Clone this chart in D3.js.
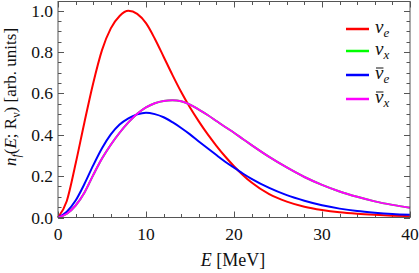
<!DOCTYPE html>
<html>
<head>
<meta charset="utf-8">
<script src="https://cdn.jsdelivr.net/npm/d3@7"></script>
<style>
  body { margin: 0; background: #fff; }
  svg { display: block; font-family: "Liberation Serif", "DejaVu Serif", serif; }
</style>
</head>
<body>
<svg id="chart" width="419" height="273"></svg>
<script>
// energies (MeV) the curves were read at
const energy = [0, 1, 2, 3, 4, 5, 6, 7, 8, 9, 10, 11, 12, 13, 14, 15, 16, 17, 18, 19, 20, 21, 22, 24, 26, 28, 30, 32, 34, 36, 38, 40];

// spectra
const nuE = [0, 0.08, 0.26, 0.46, 0.65, 0.81, 0.915, 0.975, 1.0, 0.985, 0.94, 0.865, 0.778, 0.69, 0.607, 0.532, 0.465, 0.403, 0.347, 0.295, 0.248, 0.206, 0.169, 0.113, 0.077, 0.052, 0.036, 0.025, 0.018, 0.013, 0.009, 0.006];
const nuX = [0, 0.018, 0.058, 0.12, 0.205, 0.285, 0.352, 0.41, 0.46, 0.502, 0.533, 0.553, 0.564, 0.567, 0.562, 0.546, 0.522, 0.496, 0.467, 0.438, 0.41, 0.38, 0.35, 0.293, 0.242, 0.196, 0.158, 0.126, 0.1, 0.078, 0.061, 0.047];
const nuEbar = [0, 0.028, 0.082, 0.162, 0.252, 0.335, 0.402, 0.45, 0.48, 0.499, 0.507, 0.5, 0.485, 0.461, 0.433, 0.402, 0.368, 0.335, 0.302, 0.27, 0.241, 0.213, 0.187, 0.143, 0.108, 0.081, 0.059, 0.043, 0.031, 0.023, 0.017, 0.013];
const nuXbar = [0, 0.018, 0.058, 0.12, 0.205, 0.285, 0.352, 0.41, 0.46, 0.502, 0.533, 0.553, 0.564, 0.567, 0.562, 0.546, 0.522, 0.496, 0.467, 0.438, 0.41, 0.38, 0.35, 0.293, 0.242, 0.196, 0.158, 0.126, 0.1, 0.078, 0.061, 0.047];

const series = [
  {name: "e", bar: false, color: "#ff0000", values: nuE},
  {name: "x", bar: false, color: "#00ff00", values: nuX},
  {name: "e", bar: true, color: "#0000ff", values: nuEbar},
  {name: "x", bar: true, color: "#ff00ff", values: nuXbar}
];

const xTicks = [0, 10, 20, 30, 40];
const yTicks = [0, 0.2, 0.4, 0.6, 0.8, 1.0];

const svg = d3.select("#chart");
const plotLeft = 58, plotRight = 410, plotTop = 1.5, plotBottom = 217.5;

const x = d3.scaleLinear().domain([0, 40]).range([plotLeft, plotRight]);
const y = d3.scaleLinear().domain([0, 1.045]).range([plotBottom, plotTop]);

const frameColor = "#555";

// ticks on all four sides, pointing inwards
const xMinor = d3.range(0, 40.01, 2);
const yMinor = d3.range(0, 1.0451, 0.05);
const tk = svg.append("g").attr("stroke", frameColor).attr("stroke-width", 1);
xMinor.forEach(v => {
  const len = (Math.round(v) % 10 === 0) ? 6 : 3.5;
  const px = Math.round(x(v)) + 0.5;
  tk.append("line").attr("x1", px).attr("x2", px).attr("y1", plotBottom).attr("y2", plotBottom - len);
  tk.append("line").attr("x1", px).attr("x2", px).attr("y1", plotTop).attr("y2", plotTop + len);
});
yMinor.forEach(v => {
  const major = Math.abs(v * 5 - Math.round(v * 5)) < 1e-6;
  const len = major ? 6 : 3.5;
  const py = Math.round(y(v)) + 0.5;
  tk.append("line").attr("x1", plotLeft).attr("x2", plotLeft + len).attr("y1", py).attr("y2", py);
  tk.append("line").attr("x1", plotRight).attr("x2", plotRight - len).attr("y1", py).attr("y2", py);
});

// tick labels
svg.append("g").selectAll("text").data(xTicks).join("text")
  .attr("x", d => x(d)).attr("y", 239.5)
  .attr("text-anchor", "middle").attr("font-size", 17.5).attr("fill", "#111")
  .text(d => d);
svg.append("g").selectAll("text").data(yTicks).join("text")
  .attr("x", 53).attr("y", d => y(d) + 6)
  .attr("text-anchor", "end").attr("font-size", 17.5).attr("fill", "#111")
  .text(d => d.toFixed(1));

// curves
const line = d3.line()
  .x((d, i) => x(energy[i]))
  .y(d => y(d))
  .curve(d3.curveMonotoneX);

const plot = svg.append("g");
series.forEach(s => {
  plot.append("path")
    .attr("d", line(s.values))
    .attr("fill", "none")
    .attr("stroke", s.color)
    .attr("stroke-width", 2);
});

// frame
svg.append("rect")
  .attr("x", plotLeft).attr("y", plotTop)
  .attr("width", plotRight - plotLeft).attr("height", plotBottom - plotTop)
  .attr("fill", "none").attr("stroke", frameColor).attr("stroke-width", 1);

// legend
const legY = [29, 51, 75, 99];
series.forEach((s, i) => {
  const g = svg.append("g");
  g.append("line")
    .attr("x1", 346).attr("x2", 369)
    .attr("y1", legY[i]).attr("y2", legY[i])
    .attr("stroke", s.color).attr("stroke-width", 2.5);
  const t = g.append("text")
    .attr("x", 375).attr("y", legY[i] + 4)
    .attr("font-size", 19).attr("font-style", "italic").attr("fill", "#111");
  t.append("tspan").text("ν");
  t.append("tspan").attr("font-size", 13).attr("dy", 4).text(s.name);
  if (s.bar) {
    const ext = t.node().getExtentOfChar(0);
    g.append("line")
      .attr("x1", ext.x + 1).attr("x2", ext.x + ext.width)
      .attr("y1", legY[i] - 7).attr("y2", legY[i] - 7)
      .attr("stroke", "#111").attr("stroke-width", 1);
  }
});

// axis titles
const xl = svg.append("text")
  .attr("x", 233).attr("y", 266)
  .attr("text-anchor", "middle").attr("font-size", 18).attr("fill", "#111");
xl.append("tspan").attr("font-style", "italic").text("E");
xl.append("tspan").text(" [MeV]");

const yl = svg.append("text")
  .attr("transform", "translate(16,97) rotate(-90)")
  .attr("text-anchor", "middle").attr("font-size", 17).attr("fill", "#111");
yl.append("tspan").attr("font-style", "italic").text("n");
yl.append("tspan").attr("font-style", "italic").attr("font-size", 12).attr("dy", 4).text("f");
yl.append("tspan").attr("dy", -4).text("(");
yl.append("tspan").attr("font-style", "italic").text("E");
yl.append("tspan").text("; R");
yl.append("tspan").attr("font-size", 12).attr("dy", 4).text("ν");
yl.append("tspan").attr("dy", -4).text(") [arb. units]");
</script>
</body>
</html>
